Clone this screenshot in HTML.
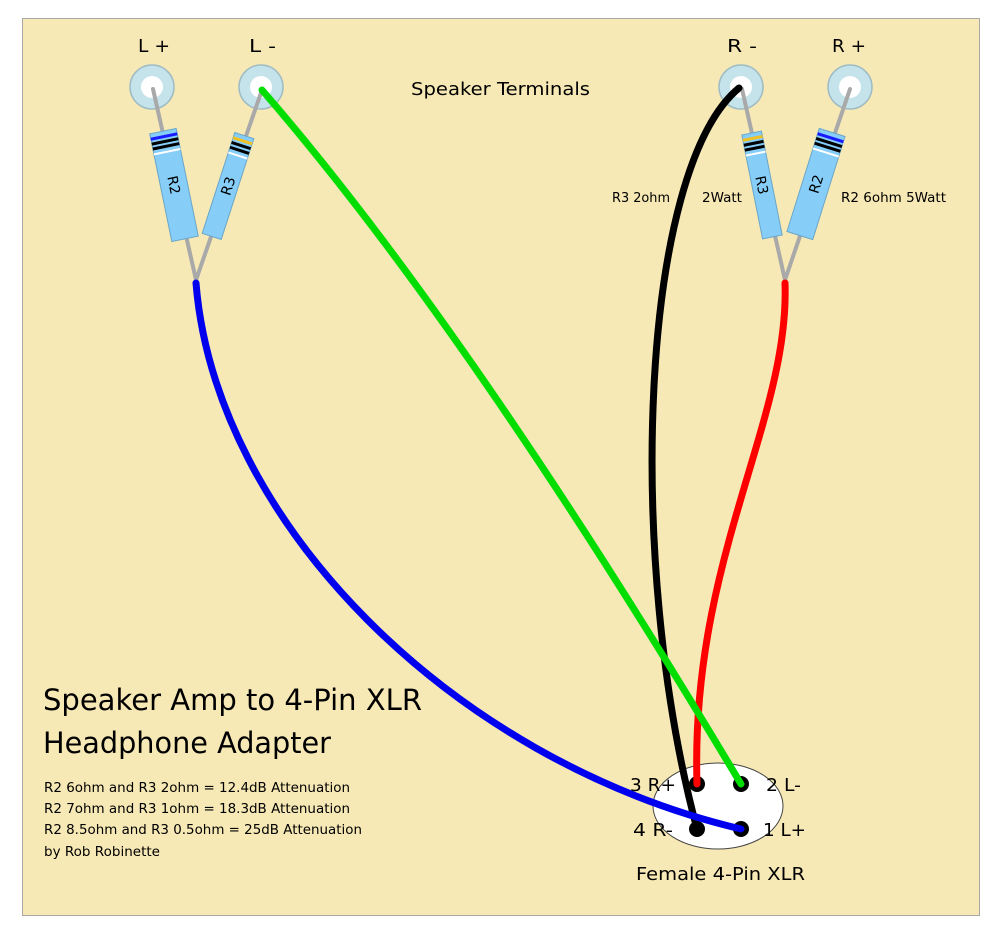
<!DOCTYPE html>
<html><head><meta charset="utf-8"><style>
html,body{margin:0;padding:0;background:#fff;}
svg{display:block;font-family:"DejaVu Sans","Liberation Sans",sans-serif;}
</style></head><body>
<svg width="1000" height="937" viewBox="0 0 1000 937" xmlns="http://www.w3.org/2000/svg">
<rect x="22.5" y="18.5" width="957" height="897" fill="#f7e9b5" stroke="#a8a8a8" stroke-width="1"/>
<g fill="#c5e3ea" stroke="#9fbcc4" stroke-width="1.5">
<circle cx="152" cy="87" r="22"/><circle cx="261" cy="87" r="22"/>
<circle cx="741" cy="87" r="22"/><circle cx="850" cy="87" r="22"/>
</g>
<g fill="#fff"><circle cx="152" cy="87" r="11"/><circle cx="261" cy="87" r="11"/><circle cx="741" cy="87" r="11"/><circle cx="850" cy="87" r="11"/></g>
<g stroke="#a9a9a9" stroke-width="4" stroke-linecap="round" fill="none">
<polyline points="153,89 196,280 262,90"/>
<polyline points="742,89 785,280 850,89"/>
</g>
<g transform="translate(174,185) rotate(-11.6)">
<rect x="-13.5" y="-55" width="27" height="110" fill="#86cdf8" stroke="#6aa6c8"/>
<rect x="-13.5" y="-51" width="27" height="3" fill="#1a1aff"/>
<rect x="-13.5" y="-46" width="27" height="3" fill="#000"/>
<rect x="-13.5" y="-41" width="27" height="3" fill="#000"/>
<rect x="-13.5" y="-35" width="27" height="2" fill="#fff"/>
<text transform="rotate(90)" x="0" y="5" font-size="14" text-anchor="middle">R2</text>
</g>
<g transform="translate(228,186) rotate(17.9)">
<rect x="-10" y="-53" width="20" height="106" fill="#86cdf8" stroke="#6aa6c8"/>
<rect x="-10" y="-49" width="20" height="3" fill="#f0c020"/>
<rect x="-10" y="-44" width="20" height="3" fill="#000"/>
<rect x="-10" y="-39" width="20" height="3" fill="#000"/>
<rect x="-10" y="-33" width="20" height="2" fill="#fff"/>
<text transform="rotate(-90)" x="0" y="5" font-size="14" text-anchor="middle">R3</text>
</g>
<g transform="translate(762,185) rotate(-11.3)">
<rect x="-10" y="-53" width="20" height="106" fill="#86cdf8" stroke="#6aa6c8"/>
<rect x="-10" y="-49" width="20" height="3" fill="#f0c020"/>
<rect x="-10" y="-44" width="20" height="3" fill="#000"/>
<rect x="-10" y="-39" width="20" height="3" fill="#000"/>
<rect x="-10" y="-33" width="20" height="2" fill="#fff"/>
<text transform="rotate(90)" x="0" y="5" font-size="14" text-anchor="middle">R3</text>
</g>
<g transform="translate(816,184) rotate(17.4)">
<rect x="-13.5" y="-54" width="27" height="108" fill="#86cdf8" stroke="#6aa6c8"/>
<rect x="-13.5" y="-50" width="27" height="3" fill="#1a1aff"/>
<rect x="-13.5" y="-45" width="27" height="3" fill="#000"/>
<rect x="-13.5" y="-40" width="27" height="3" fill="#000"/>
<rect x="-13.5" y="-34" width="27" height="2" fill="#fff"/>
<text transform="rotate(-90)" x="0" y="5" font-size="14" text-anchor="middle">R2</text>
</g>
<ellipse cx="718" cy="806" rx="65" ry="43" fill="#fff" stroke="#444" stroke-width="1"/>
<g fill="#000"><circle cx="697" cy="784" r="8"/><circle cx="741" cy="784" r="8"/><circle cx="697" cy="829" r="8"/><circle cx="741" cy="829" r="8"/></g>
<g fill="none" stroke-width="7" stroke-linecap="round">
<path d="M739,88 C640,170 625,560 697,829" stroke="#000"/>
<path d="M785,283 C790,420 690,560 697,784" stroke="#ff0000"/>
<path d="M262,90 Q470,330 741,784" stroke="#00dd00"/>
<path d="M196,283 C215,520 450,760 741,829" stroke="#0000ee"/>
</g>
<g font-size="18" fill="#000" lengthAdjust="spacingAndGlyphs">
<text x="138" y="52" textLength="32" lengthAdjust="spacingAndGlyphs">L +</text>
<text x="249" y="52" textLength="27" lengthAdjust="spacingAndGlyphs">L -</text>
<text x="727" y="52" textLength="30" lengthAdjust="spacingAndGlyphs">R -</text>
<text x="832" y="52" textLength="34" lengthAdjust="spacingAndGlyphs">R +</text>
<text x="411" y="95" textLength="179" lengthAdjust="spacingAndGlyphs">Speaker Terminals</text>
<text x="630" y="791" textLength="46" lengthAdjust="spacingAndGlyphs">3 R+</text>
<text x="766" y="791" textLength="35" lengthAdjust="spacingAndGlyphs">2 L-</text>
<text x="633" y="836" textLength="40" lengthAdjust="spacingAndGlyphs">4 R-</text>
<text x="763" y="836" textLength="43" lengthAdjust="spacingAndGlyphs">1 L+</text>
<text x="636" y="880" textLength="169" lengthAdjust="spacingAndGlyphs">Female 4-Pin XLR</text>
</g>
<g font-size="13">
<text x="612" y="202" textLength="58" lengthAdjust="spacingAndGlyphs">R3 2ohm</text>
<text x="702" y="202" textLength="40" lengthAdjust="spacingAndGlyphs">2Watt</text>
<text x="841" y="202" textLength="105" lengthAdjust="spacingAndGlyphs">R2 6ohm 5Watt</text>
<text x="44" y="792" textLength="306" lengthAdjust="spacingAndGlyphs">R2 6ohm and R3 2ohm = 12.4dB Attenuation</text>
<text x="44" y="813" textLength="306" lengthAdjust="spacingAndGlyphs">R2 7ohm and R3 1ohm = 18.3dB Attenuation</text>
<text x="44" y="834" textLength="318" lengthAdjust="spacingAndGlyphs">R2 8.5ohm and R3 0.5ohm = 25dB Attenuation</text>
<text x="44" y="856" textLength="116" lengthAdjust="spacingAndGlyphs">by Rob Robinette</text>
</g>
<g font-size="29">
<text x="43" y="710" textLength="379" lengthAdjust="spacingAndGlyphs">Speaker Amp to 4-Pin XLR</text>
<text x="43" y="753" textLength="288" lengthAdjust="spacingAndGlyphs">Headphone Adapter</text>
</g>
</svg>
</body></html>
